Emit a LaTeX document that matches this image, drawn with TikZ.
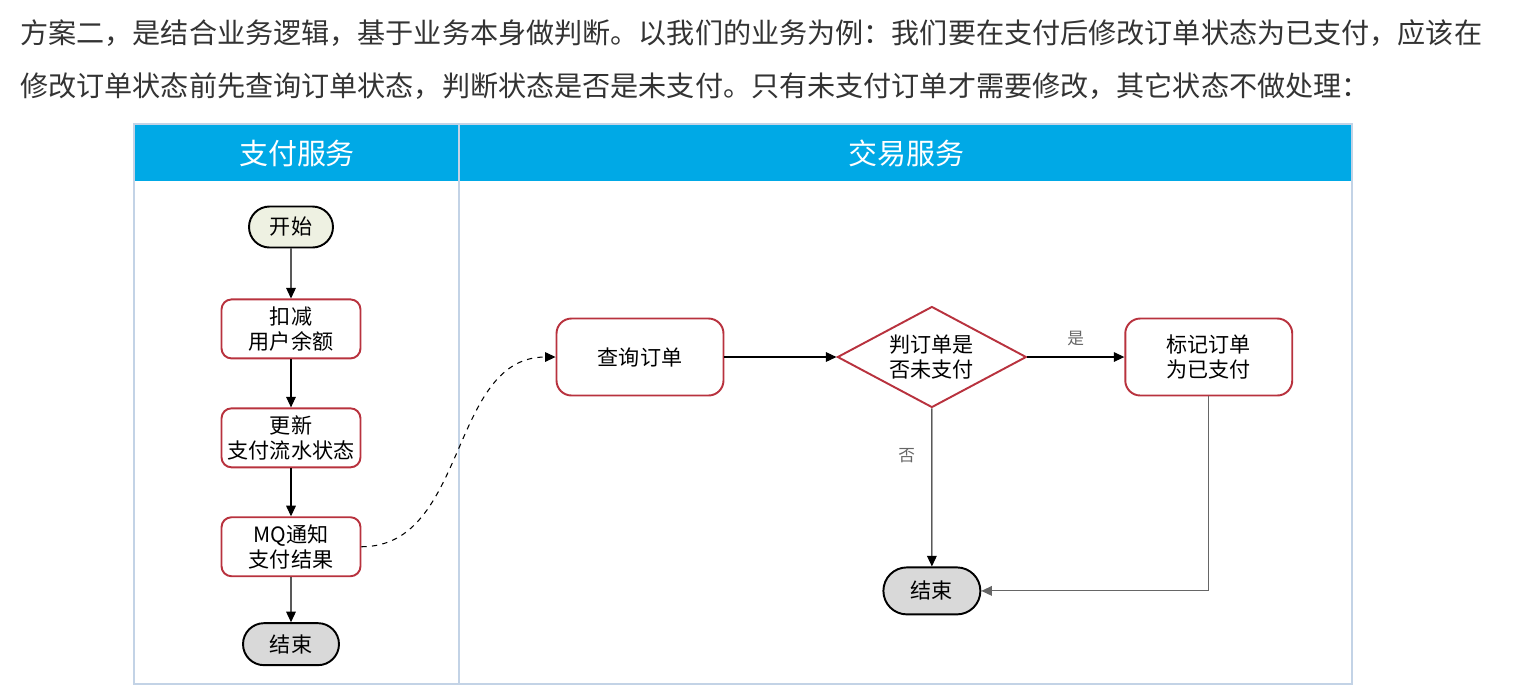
\documentclass[tikz,border=0pt]{standalone}
\usepackage{fontspec}
\setmainfont{Noto Sans CJK SC}
\usetikzlibrary{positioning, arrows.meta, shapes.geometric, shapes.misc}

\definecolor{laneblue}{HTML}{00A9E6}
\definecolor{laneline}{HTML}{C3D3E6}
\definecolor{boxred}{HTML}{B8323E}
\definecolor{startfill}{HTML}{EEF1E2}
\definecolor{endfill}{HTML}{D9D9D9}
\definecolor{bodytext}{HTML}{333333}

\tikzset{
    procbox/.style={
        draw=boxred,
        line width=1.1pt,
        rectangle,
        rounded corners=0.2cm,
        minimum width=2.78cm,
        minimum height=1.18cm,
        align=center,
        inner sep=2pt,
        font=\fontsize{12}{14.5}\selectfont
    },
    widebox/.style={
        procbox,
        rounded corners=0.3cm,
        minimum width=3.34cm,
        minimum height=1.54cm
    },
    termnode/.style={
        draw=black,
        line width=1.1pt,
        rounded rectangle,
        inner sep=0pt,
        font=\fontsize{12}{14.5}\selectfont
    },
    decision/.style={
        draw=boxred,
        line width=1.1pt,
        diamond,
        aspect=1.87,
        inner sep=0pt,
        minimum width=3.78cm,
        minimum height=2.02cm,
        align=center,
        font=\fontsize{12}{14.5}\selectfont
    },
    flowarrow/.style={
        -{Triangle[width=5.5pt,length=6pt]},
        line width=0.6pt
    },
    edgelabel/.style={
        text=black!60,
        font=\fontsize{9.5}{11}\selectfont
    }
}

\begin{document}
\begin{tikzpicture}[x=0.02cm, y=-0.02cm]
    \useasboundingbox (0,0) rectangle (1513,691);

    % paragraph above the chart
    \node[anchor=west, inner sep=0pt, text=bodytext, font=\fontsize{16}{20}\selectfont] (line1) at (20,33)
        {方案二，是结合业务逻辑，基于业务本身做判断。以我们的业务为例：我们要在支付后修改订单状态为已支付，应该在};
    \node[anchor=west, inner sep=0pt, text=bodytext, font=\fontsize{16}{20}\selectfont] (line2) at (20,86)
        {修改订单状态前先查询订单状态，判断状态是否是未支付。只有未支付订单才需要修改，其它状态不做处理：};

    % swimlanes
    \fill[laneblue] (134,124) rectangle (1352,181);
    \draw[laneline, line width=1.2pt] (134,124) rectangle (1352,684);
    \draw[laneline, line width=1.6pt] (459,124) -- (459,684);
    \node[text=white, font=\fontsize{16.5}{20}\selectfont] (paylane) at (297,153) {支付服务};
    \node[text=white, font=\fontsize{16.5}{20}\selectfont] (tradelane) at (906,153) {交易服务};

    % payment service
    \node[termnode, fill=startfill, minimum width=1.68cm, minimum height=0.82cm] (start) at (291,227) {开始};
    \node[procbox, below=1.0cm of start] (deduct) {扣减\\用户余额};
    \node[procbox, below=0.96cm of deduct] (update) {更新\\支付流水状态};
    \node[procbox, below=0.96cm of update] (notify) {MQ通知\\支付结果};
    \node[termnode, fill=endfill, minimum width=1.92cm, minimum height=0.84cm, below=0.9cm of notify] (payend) {结束};

    % trade service
    \node[widebox] (query) at (640,357) {查询订单};
    \node[decision, right=2.24cm of query] (check) {判订单是\\否未支付};
    \node[widebox, right=1.94cm of check] (mark) {标记订单\\为已支付};
    \node[termnode, fill=endfill, minimum width=1.94cm, minimum height=0.94cm, below=3.16cm of check] (tradeend) {结束};

    \draw[flowarrow] (start) -- (deduct);
    \draw[flowarrow] (deduct) -- (update);
    \draw[flowarrow] (update) -- (notify);
    \draw[flowarrow] (notify) -- (payend);

    \draw[flowarrow, dashed] (notify.east) to[out=0, in=180] (query.west);
    \draw[flowarrow] (query) -- (check);
    \draw[flowarrow] (check) -- node[edgelabel, above=3pt] {是} (mark);
    \draw[flowarrow] (check) -- node[edgelabel, pos=0.3, left=6pt] {否} (tradeend);
    \draw[flowarrow, draw=black!60] (mark.south) |- (tradeend.east);
\end{tikzpicture}
\end{document}
